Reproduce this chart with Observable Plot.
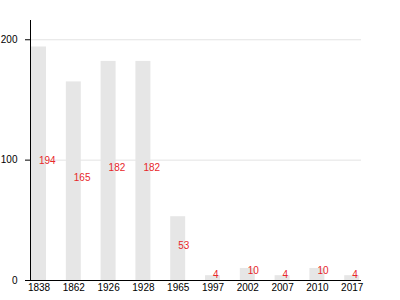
<!DOCTYPE html>
<html>
<head>
<meta charset="utf-8">
<script src="https://cdn.jsdelivr.net/npm/d3@7"></script>
<script src="https://cdn.jsdelivr.net/npm/@observablehq/plot@0.6"></script>
<style>
  html, body { margin: 0; padding: 0; background: #fff; }
</style>
</head>
<body>
<div id="chart"></div>
<script>
const years = ["1838", "1862", "1926", "1928", "1965", "1997", "2002", "2007", "2010", "2017"];
const values = [194, 165, 182, 182, 53, 4, 10, 4, 10, 4];
const yTicks = [0, 100, 200];
const gridTicks = [100, 200];

const data = years.map((y, i) => ({year: y, value: values[i]}));

const chart = Plot.plot({
  width: 400,
  height: 300,
  marginTop: 20,
  marginBottom: 20,
  marginLeft: 30,
  marginRight: 39,
  style: {fontFamily: "'Liberation Sans', Arial, sans-serif", fontSize: "10px", color: "#000", background: "#fff"},
  x: {domain: years, range: [21.1, 369.1], paddingInner: 0.57, paddingOuter: 0.285, round: false, label: null},
  y: {domain: [0, 216], label: null},
  marks: [
    Plot.ruleY(gridTicks, {stroke: "#e3e3e3", strokeWidth: 1}),
    Plot.barY(data, {x: "year", y: "value", fill: "#e6e6e6"}),
    Plot.text(data, {x: "year", y: d => d.value / 2, text: d => String(d.value), textAnchor: "start", lineAnchor: "bottom", fill: "#e8262a", fontSize: 10}),
    Plot.axisX({tickSize: 0, tickPadding: 3, label: null}),
    Plot.axisY({ticks: yTicks, tickSize: 5, tickPadding: 8, label: null}),
    Plot.ruleY([0], {stroke: "#000"}),
    Plot.frame({anchor: "left", stroke: "#000"})
  ]
});
document.getElementById("chart").appendChild(chart);
</script>
</body>
</html>
